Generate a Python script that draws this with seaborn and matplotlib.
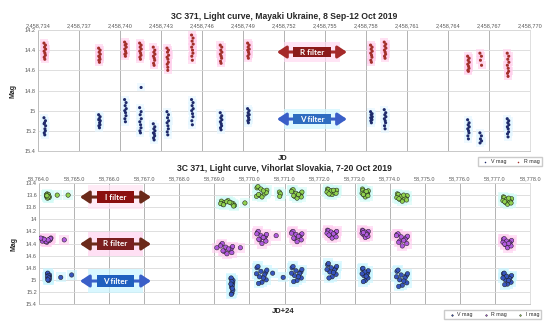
"""3C 371 light curves: Mayaki (Ukraine) and Vihorlat (Slovakia), autumn 2019."""

import matplotlib.pyplot as plt
import seaborn as sns
import pandas as pd
from matplotlib.patches import Rectangle
from matplotlib.ticker import FuncFormatter, MultipleLocator

sns.set_theme(style="whitegrid")
plt.rcParams["font.family"] = ["Liberation Sans", "DejaVu Sans"]

# ---------------- Mayaki, Ukraine (JD) ----------------
MAY_NIGHT = [2458734.5, 2458738.5, 2458740.4, 2458741.5, 2458742.5, 2458743.5, 2458745.3,
             2458747.4, 2458749.4, 2458758.4, 2458759.4, 2458765.5, 2458766.4, 2458768.4]
MAY_V = [
    [15.07, 15.10, 15.12, 15.15, 15.13, 15.18, 15.20, 15.22, 15.24],
    [15.04, 15.06, 15.08, 15.10, 15.09, 15.12, 15.14, 15.15, 15.17],
    [14.89, 14.92, 14.95, 14.98, 15.00, 15.02, 15.05, 15.08, 15.11],
    [14.97, 15.01, 15.04, 15.08, 15.11, 15.14, 15.17, 15.20, 15.22],
    [15.13, 15.16, 15.18, 15.20, 15.22, 15.23, 15.25, 15.27, 15.29],
    [15.01, 15.04, 15.07, 15.10, 15.12, 15.15, 15.18, 15.21, 15.24],
    [14.89, 14.92, 14.95, 14.98, 15.00, 15.03, 15.06, 15.10, 15.14],
    [15.02, 15.05, 15.07, 15.09, 15.11, 15.13, 15.15, 15.17, 15.19],
    [14.98, 15.00, 15.02, 15.04, 15.05, 15.07, 15.09, 15.10, 15.12],
    [15.01, 15.03, 15.04, 15.06, 15.07, 15.08, 15.09, 15.10, 15.12],
    [14.99, 15.02, 15.04, 15.06, 15.08, 15.10, 15.12, 15.15, 15.18],
    [15.09, 15.12, 15.14, 15.16, 15.18, 15.20, 15.22, 15.25, 15.28],
    [15.22, 15.25, 15.28, 15.30, 15.32],
    [15.08, 15.10, 15.12, 15.14, 15.16, 15.18, 15.21, 15.23, 15.26],
]
MAY_R = [
    [14.33, 14.35, 14.37, 14.39, 14.41, 14.43, 14.45, 14.47, 14.49],
    [14.38, 14.40, 14.42, 14.44, 14.46, 14.47, 14.49, 14.50, 14.52],
    [14.32, 14.34, 14.35, 14.37, 14.39, 14.41, 14.43, 14.44, 14.46],
    [14.33, 14.35, 14.37, 14.39, 14.41, 14.43, 14.45, 14.47, 14.49],
    [14.37, 14.40, 14.42, 14.44, 14.46, 14.48, 14.50, 14.53, 14.55],
    [14.38, 14.40, 14.42, 14.45, 14.47, 14.49, 14.52, 14.54, 14.57],
    [14.25, 14.28, 14.31, 14.34, 14.37, 14.40, 14.43, 14.46, 14.50],
    [14.35, 14.37, 14.40, 14.42, 14.44, 14.46, 14.48, 14.51, 14.53],
    [14.33, 14.35, 14.37, 14.39, 14.40, 14.42, 14.44, 14.46, 14.48],
    [14.35, 14.37, 14.39, 14.41, 14.43, 14.45, 14.47, 14.50, 14.52],
    [14.32, 14.34, 14.36, 14.38, 14.40, 14.42, 14.44, 14.46, 14.48],
    [14.46, 14.48, 14.50, 14.52, 14.54, 14.56, 14.58, 14.60, 14.61],
    [14.43, 14.46, 14.50, 14.55],
    [14.43, 14.46, 14.49, 14.52, 14.55, 14.58, 14.61, 14.63, 14.66],
]
MAY_EXTRA_V_JD = [2458741.55]
MAY_EXTRA_V = [14.77]
MAY_EXTRA_R_JD = [2458743.5]
MAY_EXTRA_R = [14.60]
MAY_OFFSETS = [-0.06, 0.05, -0.02, 0.06, -0.05, 0.01, 0.04, -0.04, 0.0]

# ---------------- Vihorlat, Slovakia (JD+24) ----------------
VIH_OFFSETS = [-0.45, 0.38, -0.22, 0.48, 0.02, -0.36, 0.26, -0.08, 0.42, -0.5, 0.15, -0.3]

VIH_I_NIGHT = [58764.25, 58769.38, 58770.35, 58770.87, 58771.35, 58772.35, 58773.30, 58774.35, 58777.35]
VIH_I_WIDTH = [0.08, 0.40, 0.30, 0.04, 0.30, 0.28, 0.18, 0.30, 0.25]
VIH_I = [
    [13.60, 13.62, 13.58, 13.64, 13.61, 13.63, 13.59, 13.65, 13.62, 13.60, 13.63, 13.61],
    [13.70, 13.74, 13.72, 13.77, 13.69, 13.75, 13.73, 13.71, 13.78, 13.74, 13.72, 13.76],
    [13.48, 13.55, 13.60, 13.52, 13.63, 13.46, 13.58, 13.50, 13.56, 13.62, 13.53, 13.59],
    [13.55, 13.58, 13.62],
    [13.52, 13.58, 13.62, 13.55, 13.65, 13.51, 13.60, 13.57, 13.63, 13.54, 13.59, 13.61],
    [13.50, 13.54, 13.58, 13.52, 13.59, 13.51, 13.56, 13.53, 13.57, 13.55, 13.52, 13.58],
    [13.50, 13.56, 13.60, 13.53, 13.63, 13.52, 13.58, 13.55, 13.61, 13.57, 13.54, 13.59],
    [13.58, 13.63, 13.67, 13.61, 13.70, 13.59, 13.65, 13.62, 13.68, 13.64, 13.60, 13.66],
    [13.63, 13.68, 13.72, 13.66, 13.75, 13.64, 13.70, 13.67, 13.73, 13.69, 13.65, 13.71],
]
VIH_I_EXTRA_JD = [58764.52, 58764.83, 58769.87]
VIH_I_EXTRA = [13.60, 13.60, 13.73]

VIH_R_NIGHT = [58764.22, 58769.35, 58770.35, 58771.35, 58772.35, 58773.30, 58774.35, 58777.35]
VIH_R_WIDTH = [0.25, 0.35, 0.28, 0.30, 0.28, 0.18, 0.32, 0.25]
VIH_R = [
    [14.32, 14.34, 14.36, 14.31, 14.38, 14.33, 14.35, 14.37, 14.32, 14.36, 14.34, 14.33],
    [14.42, 14.48, 14.53, 14.45, 14.57, 14.40, 14.50, 14.46, 14.55, 14.44, 14.49, 14.52],
    [14.22, 14.28, 14.34, 14.25, 14.40, 14.20, 14.31, 14.27, 14.36, 14.24, 14.30, 14.33],
    [14.21, 14.26, 14.32, 14.24, 14.37, 14.20, 14.29, 14.25, 14.34, 14.23, 14.28, 14.31],
    [14.18, 14.22, 14.27, 14.20, 14.31, 14.19, 14.25, 14.21, 14.29, 14.23, 14.24, 14.26],
    [14.18, 14.22, 14.26, 14.20, 14.30, 14.19, 14.24, 14.21, 14.28, 14.23, 14.25, 14.22],
    [14.25, 14.30, 14.36, 14.28, 14.44, 14.24, 14.33, 14.29, 14.40, 14.27, 14.35, 14.38],
    [14.33, 14.37, 14.42, 14.35, 14.47, 14.32, 14.39, 14.36, 14.44, 14.38, 14.40, 14.41],
]
VIH_R_EXTRA_JD = [58764.05, 58764.72, 58769.07, 58769.74, 58770.76]
VIH_R_EXTRA = [14.31, 14.34, 14.47, 14.47, 14.27]

VIH_V_NIGHT = [58764.27, 58769.50, 58770.35, 58771.35, 58772.35, 58773.30, 58774.35, 58777.35]
VIH_V_WIDTH = [0.06, 0.06, 0.30, 0.30, 0.28, 0.18, 0.32, 0.25]
VIH_V = [
    [14.90, 14.94, 14.98, 14.92, 15.01, 14.89, 14.96, 14.93, 14.99, 14.95, 14.97, 15.00],
    [14.98, 15.05, 15.12, 15.01, 15.22, 14.97, 15.09, 15.03, 15.17, 15.07, 15.14, 15.24],
    [14.80, 14.88, 14.95, 14.84, 15.04, 14.78, 14.92, 14.86, 15.00, 14.90, 14.97, 15.06],
    [14.80, 14.87, 14.93, 14.83, 15.01, 14.78, 14.90, 14.85, 14.97, 14.89, 14.95, 15.03],
    [14.75, 14.81, 14.87, 14.78, 14.95, 14.73, 14.84, 14.80, 14.91, 14.83, 14.88, 14.97],
    [14.82, 14.88, 14.93, 14.85, 15.01, 14.81, 14.91, 14.87, 14.97, 14.90, 14.94, 15.03],
    [14.86, 14.93, 15.00, 14.90, 15.09, 14.84, 14.97, 14.92, 15.05, 14.95, 15.02, 15.11],
    [14.90, 14.95, 15.00, 14.93, 15.07, 14.89, 14.98, 14.94, 15.04, 14.97, 15.01, 15.08],
]
VIH_V_EXTRA_JD = [58764.62, 58764.93, 58770.66, 58770.96]
VIH_V_EXTRA = [14.96, 14.92, 14.89, 14.96]

MAY_COLORS = {"V mag": "#1f2a6b", "R mag": "#a3302a"}
MAY_HALO = {"V mag": "#e3f6ff", "R mag": "#ffcdec"}
VIH_COLORS = {"V mag": "#3756c0", "R mag": "#b45be0", "I mag": "#8fd14f"}
VIH_HALO = {"V mag": "#c9f5ff", "R mag": "#ffcdf0", "I mag": "#d2fbf6"}


def _nights_to_rows(nights, mags, band, widths=None, offsets=None):
    rows = []
    for i, (jd, vals) in enumerate(zip(nights, mags)):
        w = 1.0 if widths is None else widths[i]
        for k, m in enumerate(vals):
            rows.append({"jd": jd + offsets[k] * w, "mag": m, "band": band})
    return rows


def _extra_rows(jds, mags, band):
    return [{"jd": j, "mag": m, "band": band} for j, m in zip(jds, mags)]


def _style_axes(ax, ylim, yticks, xlim, xstep, fmt, xlabel):
    ax.set_xlim(*xlim)
    ax.set_ylim(*ylim)
    ax.set_yticks(yticks)
    ax.yaxis.set_major_formatter(FuncFormatter(lambda v, _: f"{v:g}"))
    ax.xaxis.set_major_locator(MultipleLocator(xstep))
    ax.xaxis.set_major_formatter(FuncFormatter(fmt))
    ax.xaxis.tick_top()
    ax.tick_params(axis="both", labelsize=4, colors="#595959", length=0, pad=1.5)
    ax.grid(axis="x", color="#a6a6a6", lw=0.6)
    ax.grid(axis="y", color="#d9d9d9", lw=0.6)
    for side in ["top", "right"]:
        ax.spines[side].set_color("#d9d9d9")
        ax.spines[side].set_linewidth(0.6)
    for side in ["left", "bottom"]:
        ax.spines[side].set_color("#bfbfbf")
        ax.spines[side].set_linewidth(0.6)
    ax.set_xlabel("")
    ax.set_ylabel("Mag", fontsize=5, fontweight="bold", labelpad=6)
    ax.text(0.497, -0.035, xlabel, transform=ax.transAxes, ha="center", va="top",
            fontsize=5.5, fontweight="bold")


def _filter_tag(ax, text, y, x0, x1, box_w, box_h, arrow_color, box_color, halo):
    xc = (x0 + x1) / 2
    ax.add_patch(Rectangle((xc - box_w * 0.75, y - box_h * 1.0), box_w * 1.5, box_h * 2.0,
                           transform=ax.transAxes, fc=halo, ec="none", alpha=0.7, zorder=4))
    ax.annotate("", xy=(x0, y), xytext=(x1, y), xycoords="axes fraction",
                arrowprops=dict(arrowstyle="<|-|>,head_length=0.45,head_width=0.3",
                                color=arrow_color, lw=2.2, shrinkA=0, shrinkB=0), zorder=5)
    ax.add_patch(Rectangle((xc - box_w / 2, y - box_h / 2), box_w, box_h,
                           transform=ax.transAxes, fc=box_color, ec="none", zorder=6))
    ax.text(xc, y, text, transform=ax.transAxes, ha="center", va="center", color="white",
            fontsize=5.8, fontweight="bold", family=["Lato", "DejaVu Sans"], zorder=7)


def _scatter(ax, df, colors, halos, order, size, halo_size, edge, lw):
    for band in order:
        sub = df[df["band"] == band]
        ax.scatter(sub["jd"], sub["mag"], s=halo_size, marker="s", color=halos[band],
                   alpha=0.6, lw=0, zorder=2)
    sns.scatterplot(data=df, x="jd", y="mag", hue="band", hue_order=order, palette=colors,
                    s=size, edgecolor=edge, linewidth=lw, ax=ax, zorder=3)


fig = plt.figure(figsize=(5.5, 3.23), dpi=100)

# ---------------- top panel ----------------
may_rows = (_nights_to_rows(MAY_NIGHT, MAY_V, "V mag", offsets=MAY_OFFSETS)
            + _nights_to_rows(MAY_NIGHT, MAY_R, "R mag", offsets=MAY_OFFSETS)
            + _extra_rows(MAY_EXTRA_V_JD, MAY_EXTRA_V, "V mag")
            + _extra_rows(MAY_EXTRA_R_JD, MAY_EXTRA_R, "R mag"))
may_df = pd.DataFrame(may_rows)

ax1 = fig.add_axes([0.069, 0.5325, 0.8945, 0.3746])
_scatter(ax1, may_df, MAY_COLORS, MAY_HALO, ["V mag", "R mag"], 5, 30, "none", 0)
_style_axes(ax1, (15.4, 14.2), [14.2, 14.4, 14.6, 14.8, 15.0, 15.2, 15.4],
            (2458734, 2458770), 3, lambda v, _: f"{v:,.0f}", "JD")
ax1.set_title("3C 371, Light curve, Mayaki Ukraine, 8 Sep-12 Oct 2019", fontsize=6.2,
              fontweight="bold", pad=8)
ax1.legend(loc="upper right", bbox_to_anchor=(1.03, -0.03), fontsize=3.8, frameon=True,
           ncol=2, markerscale=0.5, handletextpad=0.1, columnspacing=1.2,
           borderpad=0.4, edgecolor="#bfbfbf", fancybox=False)
_filter_tag(ax1, "R filter", 0.818, 0.486, 0.628, 0.077, 0.083, "#a52a2a", "#8b1a1a", "#ffd9f2")
_filter_tag(ax1, "V filter", 0.264, 0.486, 0.628, 0.077, 0.083, "#3a5fc8", "#2e6cc0", "#cff6ff")

# ---------------- bottom panel ----------------
vih_rows = (_nights_to_rows(VIH_V_NIGHT, VIH_V, "V mag", VIH_V_WIDTH, VIH_OFFSETS)
            + _nights_to_rows(VIH_R_NIGHT, VIH_R, "R mag", VIH_R_WIDTH, VIH_OFFSETS)
            + _nights_to_rows(VIH_I_NIGHT, VIH_I, "I mag", VIH_I_WIDTH, VIH_OFFSETS)
            + _extra_rows(VIH_V_EXTRA_JD, VIH_V_EXTRA, "V mag")
            + _extra_rows(VIH_R_EXTRA_JD, VIH_R_EXTRA, "R mag")
            + _extra_rows(VIH_I_EXTRA_JD, VIH_I_EXTRA, "I mag"))
vih_df = pd.DataFrame(vih_rows)

ax2 = fig.add_axes([0.0709, 0.0588, 0.893, 0.3746])
_scatter(ax2, vih_df, VIH_COLORS, VIH_HALO, ["V mag", "R mag", "I mag"], 10, 55, "#1a1a1a", 0.35)
_style_axes(ax2, (15.4, 13.4), [13.4, 13.6, 13.8, 14.0, 14.2, 14.4, 14.6, 14.8, 15.0, 15.2, 15.4],
            (58764, 58778), 1, lambda v, _: f"{v:,.1f}", "JD+24")
ax2.set_title("3C 371, Light curve, Vihorlat Slovakia, 7-20 Oct 2019", fontsize=6.2,
              fontweight="bold", pad=9)
ax2.legend(loc="upper right", bbox_to_anchor=(1.028, -0.03), fontsize=3.8, frameon=True,
           ncol=3, markerscale=0.35, handletextpad=0.1, columnspacing=1.4,
           borderpad=0.4, edgecolor="#bfbfbf", fancybox=False)
_filter_tag(ax2, "I filter", 0.884, 0.0835, 0.228, 0.075, 0.099, "#6b2a1a", "#8b0f0f", "#ffe3f3")
_filter_tag(ax2, "R filter", 0.496, 0.0835, 0.228, 0.075, 0.099, "#6b2a1a", "#7a1f1f", "#ffd3f0")
_filter_tag(ax2, "V filter", 0.190, 0.0835, 0.228, 0.075, 0.099, "#3a5fc8", "#1f5fbf", "#c9f5ff")

fig.savefig("out.png", dpi=100)
